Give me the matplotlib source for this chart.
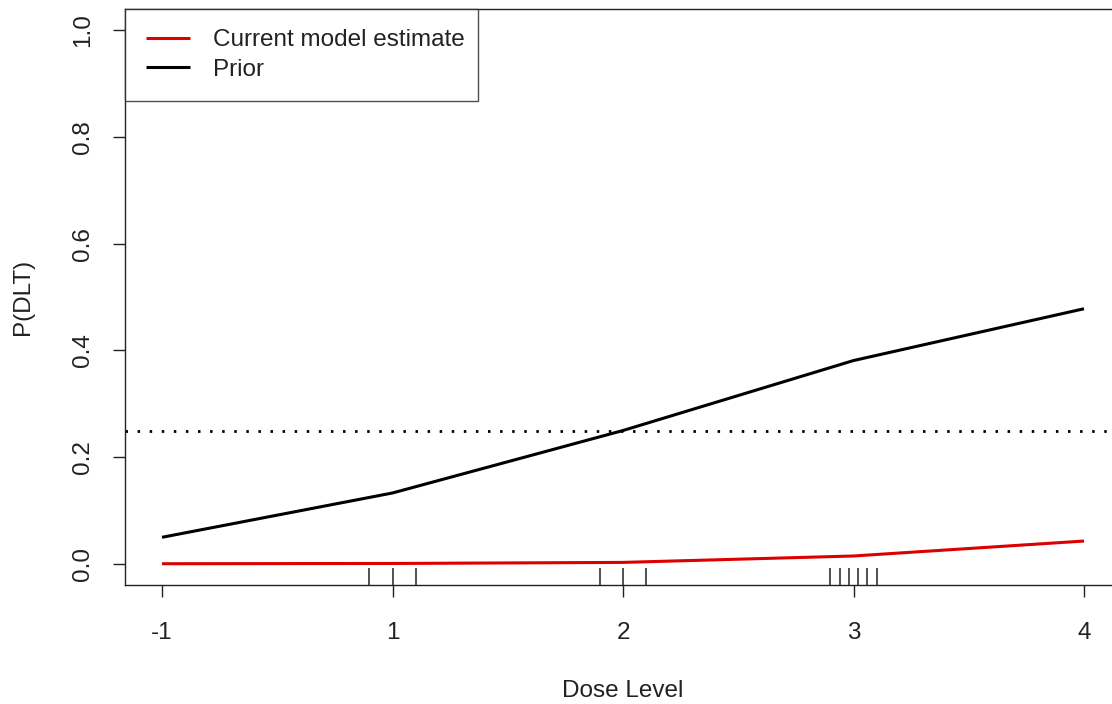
import matplotlib
matplotlib.use("Agg")
import matplotlib.pyplot as plt
import matplotlib.transforms as mtransforms

plt.rcParams["font.family"] = ["Liberation Sans", "DejaVu Sans"]

# Dose levels (plotted at positions 0..4, labelled by level)
dose_pos = [0, 1, 2, 3, 4]
dose_labels = ["-1", "1", "2", "3", "4"]

# Estimated probability of dose-limiting toxicity per level
current_est = [0.0005, 0.001, 0.003, 0.015, 0.043]
prior_est = [0.050, 0.133, 0.250, 0.381, 0.478]

target_tox = 0.25

# Jittered doses given to patients so far (rug)
patient_doses = [0.9, 1.0, 1.1, 1.9, 2.0, 2.1, 2.9, 2.94, 2.98, 3.02, 3.06, 3.1]

W, H, DPI = 1112, 704, 100
fig = plt.figure(figsize=(W / DPI, H / DPI), dpi=DPI)

# plot region in pixels: x 0->162, 4->1084 ; y 0->564, 1->30
px_x = 230.5
px_y = 534.0
left_px = 162 - 0.16 * px_x
top_px = 30 - 0.04 * px_y
ax = fig.add_axes([left_px / W, 1 - (top_px + 1.08 * px_y) / H,
                   4.32 * px_x / W, 1.08 * px_y / H])
ax.set_xlim(-0.16, 4.16)
ax.set_ylim(-0.04, 1.04)

ink = "#222222"
red = "#dd0000"
fs = 17.5

ax.plot(dose_pos, current_est, color=red, lw=2.2, label="Current model estimate",
        solid_capstyle="butt")
ax.plot(dose_pos, prior_est, color="black", lw=2.2, label="Prior",
        solid_capstyle="butt")
ax.axhline(target_tox, color="black", lw=2.0, linestyle=(0, (0.9, 3.45)))

# rug along the bottom of the plot region
trans = mtransforms.blended_transform_factory(ax.transData, ax.transAxes)
ax.vlines(patient_doses, 0, 0.03, transform=trans, color=ink, lw=1.1)

ax.set_xticks(dose_pos)
ax.set_xticklabels(dose_labels)
ax.set_yticks([0.0, 0.2, 0.4, 0.6, 0.8, 1.0])
ax.set_yticklabels(["0.0", "0.2", "0.4", "0.6", "0.8", "1.0"], rotation=90,
                   va="center")
ax.tick_params(axis="both", length=8.6, width=1.0, color=ink, labelsize=fs,
               labelcolor=ink)
ax.tick_params(axis="x", pad=18)
ax.tick_params(axis="y", pad=14)
for sp in ax.spines.values():
    sp.set_color(ink)
    sp.set_linewidth(1.0)

ax.set_xlabel("Dose Level", fontsize=fs, color=ink, va="center")
ax.set_ylabel("P(DLT)", fontsize=fs, color=ink, va="center")
ax.xaxis.set_label_coords(0.5, (585.4 - 691) / (1.08 * px_y))
ax.yaxis.set_label_coords((23 - left_px) / (4.32 * px_x), 0.5)

leg = ax.legend(loc="upper left", bbox_to_anchor=(0, 1, 353 / (4.32 * px_x), 0),
                mode="expand", borderaxespad=0, fancybox=False, fontsize=fs,
                handlelength=1.8, handletextpad=0.95, borderpad=0.85,
                labelspacing=0.3)
leg.get_frame().set_edgecolor(ink)
leg.get_frame().set_linewidth(1.0)
for t in leg.get_texts():
    t.set_color(ink)

fig.savefig("out.png", dpi=DPI)
